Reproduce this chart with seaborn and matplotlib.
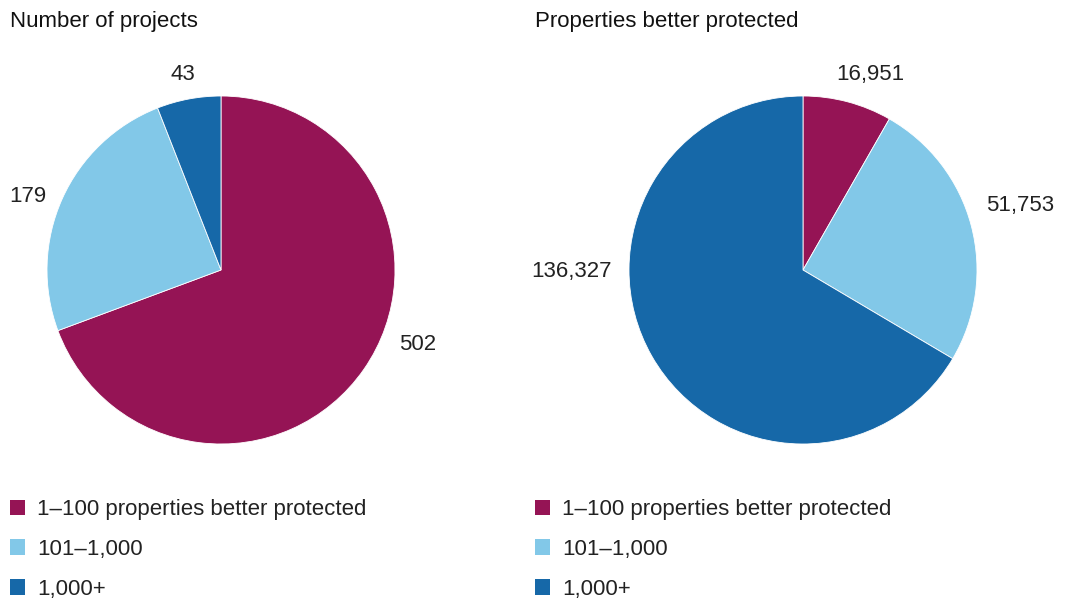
import matplotlib
matplotlib.use("Agg")
import matplotlib.pyplot as plt
from matplotlib.patches import Patch
import seaborn as sns

# Data
categories = ["1–100 properties better protected", "101–1,000", "1,000+"]
projects = [502, 179, 43]
properties = [16951, 51753, 136327]
titles = ["Number of projects", "Properties better protected"]

sns.set_theme(style="white")
plt.rcParams["font.family"] = ["Liberation Sans", "DejaVu Sans"]
palette = sns.color_palette(["#951455", "#82C8E8", "#1668A8"])

W, H = 1068, 599
FS = 16
fig = plt.figure(figsize=(W / 100, H / 100), dpi=100)

# pie centres / radius in pixels, label offsets in radius units
layouts = [
    dict(cx=221, cy=270, r=174, tx=10,
         label_pos=[(1.132, -0.431), (-1.109, 0.425), (-0.218, 1.121)]),
    dict(cx=803, cy=270, r=174, tx=535,
         label_pos=[(0.385, 1.121), (1.246, 0.368), (-1.328, -0.006)]),
]

for values, title, lay in zip([projects, properties], titles, layouts):
    r = lay["r"]
    ax = fig.add_axes([(lay["cx"] - r) / W, (H - lay["cy"] - r) / H,
                       2 * r / W, 2 * r / H])
    ax.pie(values, colors=palette, startangle=90, counterclock=False,
           radius=1, wedgeprops=dict(edgecolor="white", linewidth=0.6))
    ax.set_xlim(-1, 1)
    ax.set_ylim(-1, 1)
    ax.set_aspect("equal")
    ax.axis("off")
    for v, (x, y) in zip(values, lay["label_pos"]):
        ax.text(x, y, f"{v:,}", ha="center", va="center", fontsize=FS,
                color="#222222", clip_on=False)
    fig.text(lay["tx"] / W, 1 - 21 / H, title, ha="left", va="center",
             fontsize=FS, color="#111111")
    handles = [Patch(facecolor=c, edgecolor="none") for c in palette]
    fig.legend(handles, categories, loc="upper left",
               bbox_to_anchor=(lay["tx"] / W, 1 - 499 / H),
               frameon=False, fontsize=FS, handlelength=0.68,
               handleheight=0.68, handletextpad=0.55, labelspacing=0.85,
               borderaxespad=0, borderpad=0, labelcolor="#222222")

fig.savefig("out.png", dpi=100)
